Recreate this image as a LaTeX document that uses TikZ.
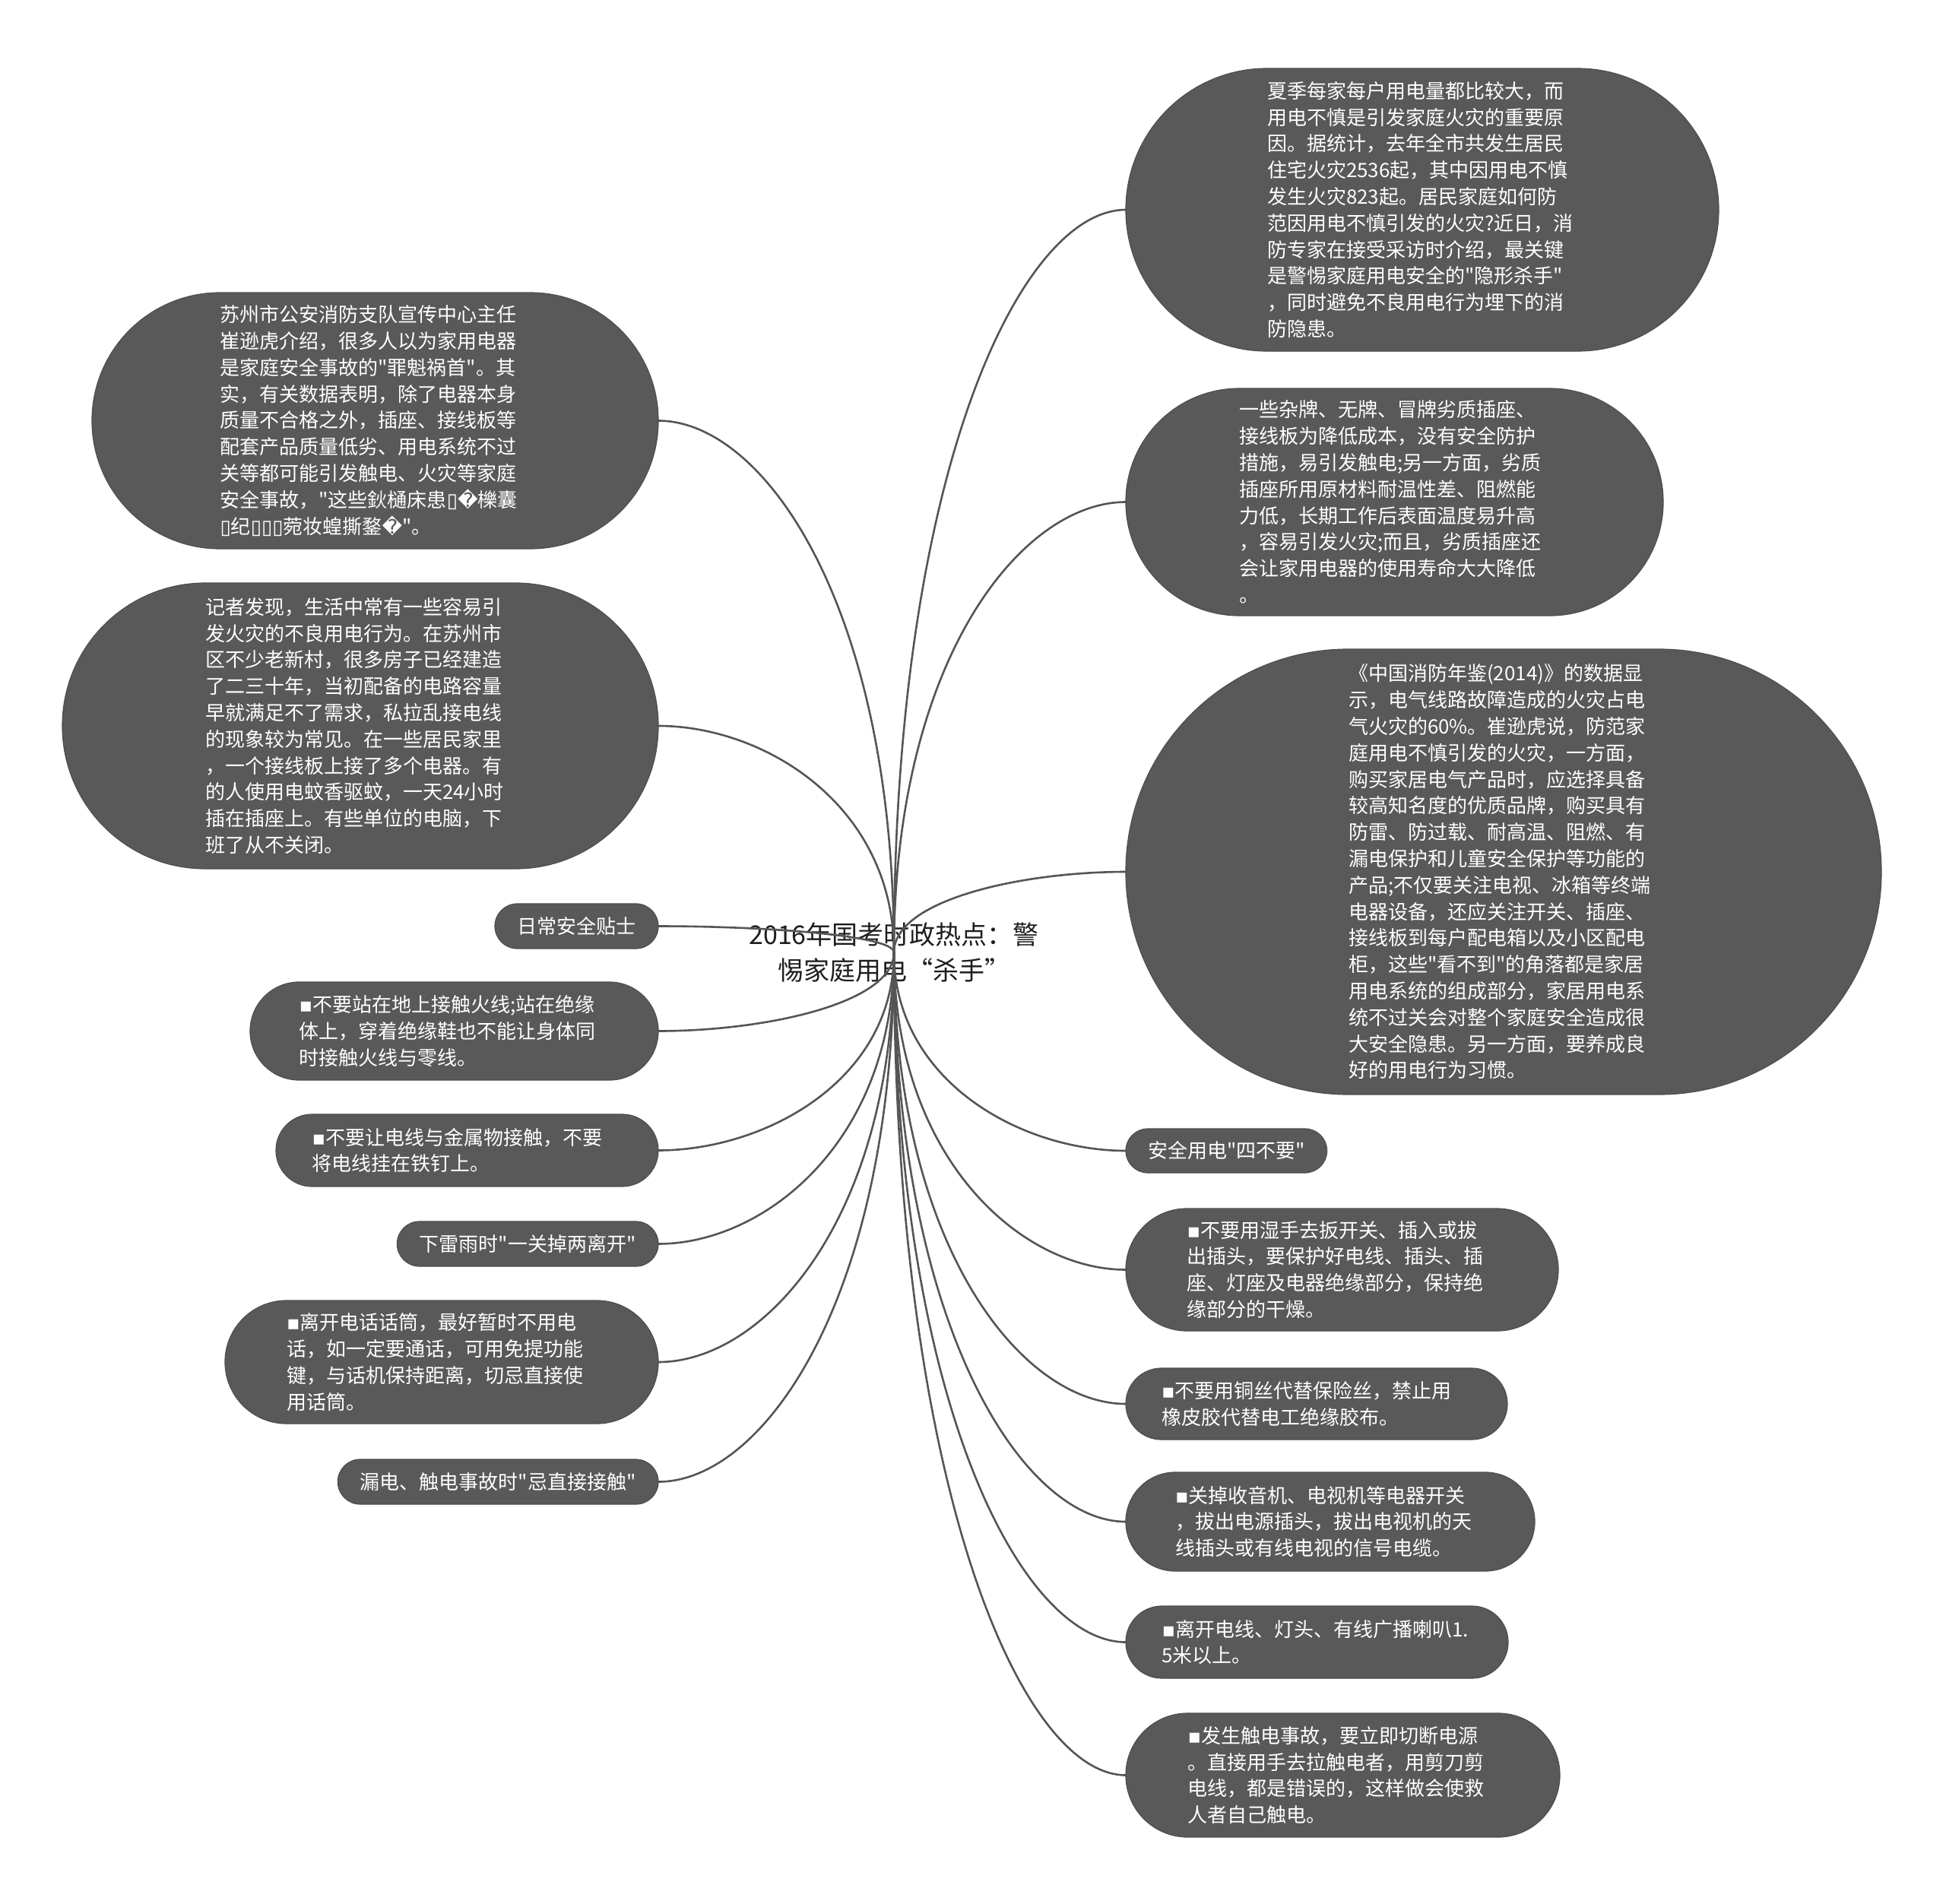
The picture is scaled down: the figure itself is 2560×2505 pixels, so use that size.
\documentclass[tikz,border=0pt]{standalone}
\usepackage{fontspec}
\setmainfont{Noto Sans CJK SC}[Ligatures=TeXOff]
\newfontfamily\dejavu{DejaVu Sans}[Ligatures=TeXOff]
\usetikzlibrary{calc}
\definecolor{boxgray}{HTML}{595959}
\definecolor{boxedge}{HTML}{4E4E4E}
\definecolor{linegray}{HTML}{555555}
\definecolor{titlecol}{HTML}{1E1E1E}
\newcommand\mybul{{\dejavu ▪}}
\newcommand\mytofu{{\dejavu ▯}}
\newcommand\myrepl{{\dejavu �}}
\tikzset{
  pill/.style={rectangle, fill=boxgray, draw=boxedge, line width=0.6pt,
    text=white, rounded corners=#1, inner xsep=#1, inner ysep=0pt, outer sep=0pt,
    minimum height=2*#1, font=\fontsize{13pt}{17.4pt}\selectfont},
  multi/.style={pill=#1, text width=204pt, align=left},
  conn/.style={draw=linegray, line width=1.3pt},
  roottext/.style={font=\fontsize{17pt}{23.5pt}\selectfont, text=titlecol,
    align=center, inner sep=0pt}
}
\newcommand\linkleft[1]{\draw[conn] (#1.east) .. controls ($(#1.east)!0.45!(root.center |- #1.east)$) and ($(root.center)!0.65!(root.center |- #1.east)$) .. (root.center);}
\newcommand\linkright[1]{\draw[conn] (root.center) .. controls ($(root.center)!0.65!(root.center |- #1.west)$) and ($(#1.west)!0.45!(root.center |- #1.west)$) .. (#1.west);}
\begin{document}
\begin{tikzpicture}[x=0.5pt,y=-0.5pt]
\fill[white] (0,0) rectangle (2560,2505);
\useasboundingbox (0,0) rectangle (2560,2505);

\node[roottext] (root) at (1176,1253) {2016年国考时政热点：警\\惕家庭用电“杀手”};

% right side
\node[multi=93pt, anchor=west] (r1) at (1481,276) {夏季每家每户用电量都比较大，而\\用电不慎是引发家庭火灾的重要原\\因。据统计，去年全市共发生居民\\住宅火灾2536起，其中因用电不慎\\发生火灾823起。居民家庭如何防\\范因用电不慎引发的火灾?近日，消\\防专家在接受采访时介绍，最关键\\是警惕家庭用电安全的"隐形杀手"\\，同时避免不良用电行为埋下的消\\防隐患。};
\node[multi=74.75pt, anchor=west] (r2) at (1481,660.5) {一些杂牌、无牌、冒牌劣质插座、\\接线板为降低成本，没有安全防护\\措施，易引发触电;另一方面，劣质\\插座所用原材料耐温性差、阻燃能\\力低，长期工作后表面温度易升高\\，容易引发火灾;而且，劣质插座还\\会让家用电器的使用寿命大大降低\\。};
\node[multi=146.5pt, anchor=west] (r3) at (1481,1147) {《中国消防年鉴(2014)》的数据显\\示，电气线路故障造成的火灾占电\\气火灾的60\%。崔逊虎说，防范家\\庭用电不慎引发的火灾，一方面，\\购买家居电气产品时，应选择具备\\较高知名度的优质品牌，购买具有\\防雷、防过载、耐高温、阻燃、有\\漏电保护和儿童安全保护等功能的\\产品;不仅要关注电视、冰箱等终端\\电器设备，还应关注开关、插座、\\接线板到每户配电箱以及小区配电\\柜，这些"看不到"的角落都是家居\\用电系统的组成部分，家居用电系\\统不过关会对整个家庭安全造成很\\大安全隐患。另一方面，要养成良\\好的用电行为习惯。};
\node[pill=14.5pt, anchor=west] (r4) at (1481,1514) {安全用电"四不要"};
\node[multi=40.25pt, anchor=west] (r5) at (1481,1670.5) {\mybul 不要用湿手去扳开关、插入或拔\\出插头，要保护好电线、插头、插\\座、灯座及电器绝缘部分，保持绝\\缘部分的干燥。};
\node[multi=23.5pt, anchor=west] (r6) at (1481,1847) {\mybul 不要用铜丝代替保险丝，禁止用\\橡皮胶代替电工绝缘胶布。};
\node[multi=32.5pt, anchor=west] (r7) at (1481,2002) {\mybul 关掉收音机、电视机等电器开关\\，拔出电源插头，拔出电视机的天\\线插头或有线电视的信号电缆。};
\node[multi=23.75pt, anchor=west] (r8) at (1481,2160.5) {\mybul 离开电线、灯头、有线广播喇叭1.\\5米以上。};
\node[multi=40.75pt, anchor=west] (r9) at (1481,2335.5) {\mybul 发生触电事故，要立即切断电源\\。直接用手去拉触电者，用剪刀剪\\电线，都是错误的，这样做会使救\\人者自己触电。};

% left side
\node[multi=84.25pt, anchor=east] (l1) at (866,553.5) {苏州市公安消防支队宣传中心主任\\崔逊虎介绍，很多人以为家用电器\\是家庭安全事故的"罪魁祸首"。其\\实，有关数据表明，除了电器本身\\质量不合格之外，插座、接线板等\\配套产品质量低劣、用电系统不过\\关等都可能引发触电、火灾等家庭\\安全事故，"这些鈥樋床患\mytofu\myrepl 櫟囊\\\mytofu 纪\mytofu\mytofu\mytofu 菀妆蝗撕鍪\myrepl"。};
\node[multi=94pt, anchor=east] (l2) at (866,955) {记者发现，生活中常有一些容易引\\发火灾的不良用电行为。在苏州市\\区不少老新村，很多房子已经建造\\了二三十年，当初配备的电路容量\\早就满足不了需求，私拉乱接电线\\的现象较为常见。在一些居民家里\\，一个接线板上接了多个电器。有\\的人使用电蚊香驱蚊，一天24小时\\插在插座上。有些单位的电脑，下\\班了从不关闭。};
\node[pill=14.75pt, anchor=east] (l3) at (866,1218.5) {日常安全贴士};
\node[multi=32.25pt, anchor=east] (l4) at (866,1356.5) {\mybul 不要站在地上接触火线;站在绝缘\\体上，穿着绝缘鞋也不能让身体同\\时接触火线与零线。};
\node[multi=23.75pt, anchor=east] (l5) at (866,1513.5) {\mybul 不要让电线与金属物接触，不要\\将电线挂在铁钉上。};
\node[pill=14.75pt, anchor=east] (l6) at (866,1636.5) {下雷雨时"一关掉两离开"};
\node[multi=40.5pt, anchor=east] (l7) at (866,1792) {\mybul 离开电话话筒，最好暂时不用电\\话，如一定要通话，可用免提功能\\键，与话机保持距离，切忌直接使\\用话筒。};
\node[pill=14.75pt, anchor=east] (l8) at (866,1949.5) {漏电、触电事故时"忌直接接触"};

% connectors
\linkleft{l1}\linkleft{l2}\linkleft{l3}\linkleft{l4}
\linkleft{l5}\linkleft{l6}\linkleft{l7}\linkleft{l8}
\linkright{r1}\linkright{r2}\linkright{r3}\linkright{r4}\linkright{r5}
\linkright{r6}\linkright{r7}\linkright{r8}\linkright{r9}
\end{tikzpicture}
\end{document}
